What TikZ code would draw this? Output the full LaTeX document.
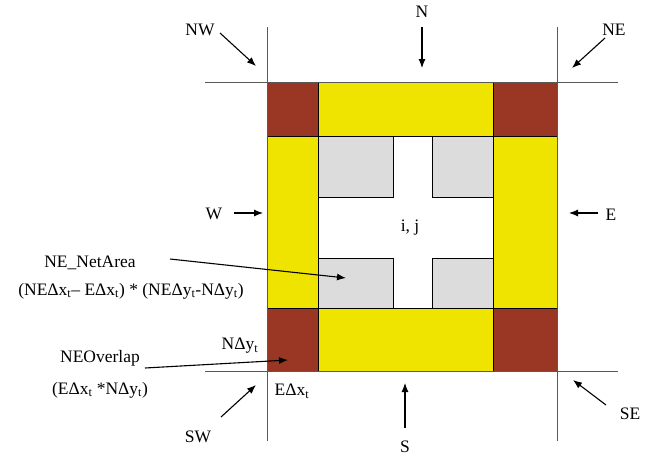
\documentclass[tikz,border=0pt]{standalone}
\usepackage{fontspec}
\setmainfont{Liberation Serif}
\usetikzlibrary{arrows.meta}
\definecolor{brick}{HTML}{993624}
\definecolor{yel}{HTML}{EEE400}
\definecolor{lgray}{HTML}{DCDCDC}
\tikzset{
  cell/.style={draw=black,line width=0.7pt},
  grid/.style={draw=black!65,line width=0.8pt},
  arr/.style={-{Latex[length=9pt,width=7pt]},line width=1.1pt},
  lbl/.style={inner sep=0pt,font=\fontsize{17.5}{20}\selectfont}
}
\newcommand{\tsub}[1]{\textsubscript{#1}}
\begin{document}
\begin{tikzpicture}[x=1pt,y=-1pt]
\useasboundingbox (0,0) rectangle (652,461);
% corners
\fill[brick,cell] (267,82) rectangle (318,136);
\fill[brick,cell] (493,82) rectangle (557,136);
\fill[brick,cell] (267,308) rectangle (318,371);
\fill[brick,cell] (493,308) rectangle (557,371);
% sides
\fill[yel,cell] (318,82) rectangle (493,136);
\fill[yel,cell] (318,308) rectangle (493,371);
\fill[yel,cell] (267,136) rectangle (318,308);
\fill[yel,cell] (493,136) rectangle (557,308);
% centre
\filldraw[fill=white,cell] (318,136) rectangle (493,308);
\fill[lgray,cell] (318,136) rectangle (393,197);
\fill[lgray,cell] (432,136) rectangle (493,197);
\fill[lgray,cell] (318,258) rectangle (393,308);
\fill[lgray,cell] (432,258) rectangle (493,308);
% grid lines
\draw[grid] (267,27) -- (267,441);
\draw[grid] (557,27) -- (557,441);
\draw[grid] (205,82) -- (618,82);
\draw[grid] (205,371) -- (618,371);
% labels
\node[lbl] (N) at (422,12) {N};
\node[lbl] (NW) at (200,30) {NW};
\node[lbl] (NE) at (614,30) {NE};
\node[lbl] (W) at (214,214) {W};
\node[lbl] (E) at (611,215) {E};
\node[lbl] (SW) at (198,437) {SW};
\node[lbl] (S) at (405,447) {S};
\node[lbl] (SE) at (630,414) {SE};
\node[lbl] (ij) at (410,228) {i, j};
\node[lbl] (net) at (90,263) {NE\_NetArea};
\node[lbl] (form) at (131,291) {(NEΔx\tsub{t}– EΔx\tsub{t}) * (NEΔy\tsub{t}-NΔy\tsub{t})};
\node[lbl] (ovl) at (100,358) {NEOverlap};
\node[lbl] (ovf) at (100,390) {(EΔx\tsub{t} *NΔy\tsub{t})};
\node[lbl] (ndy) at (240,346) {NΔy\tsub{t}};
\node[lbl] (edx) at (292,391) {EΔx\tsub{t}};
% arrow ends
\coordinate (Na) at (422,27); \coordinate (Nb) at (422,68);
\coordinate (NWa) at (220,33); \coordinate (NWb) at (256,66);
\coordinate (NEa) at (605,38); \coordinate (NEb) at (572,68);
\coordinate (Wa) at (234,213); \coordinate (Wb) at (263,213);
\coordinate (Ea) at (598,213); \coordinate (Eb) at (569,213);
\coordinate (SWa) at (221,417); \coordinate (SWb) at (256,385);
\coordinate (Sa) at (405,428); \coordinate (Sb) at (405,383);
\coordinate (SEa) at (606,405); \coordinate (SEb) at (573,380);
\coordinate (neta) at (170,259); \coordinate (netb) at (346,278);
\coordinate (ovla) at (145,368); \coordinate (ovlb) at (288,360);
\draw[arr] (Na) -- (Nb);
\draw[arr] (NWa) -- (NWb);
\draw[arr] (NEa) -- (NEb);
\draw[arr] (Wa) -- (Wb);
\draw[arr] (Ea) -- (Eb);
\draw[arr] (SWa) -- (SWb);
\draw[arr] (Sa) -- (Sb);
\draw[arr] (SEa) -- (SEb);
\draw[arr] (neta) -- (netb);
\draw[arr] (ovla) -- (ovlb);
\end{tikzpicture}
\end{document}
